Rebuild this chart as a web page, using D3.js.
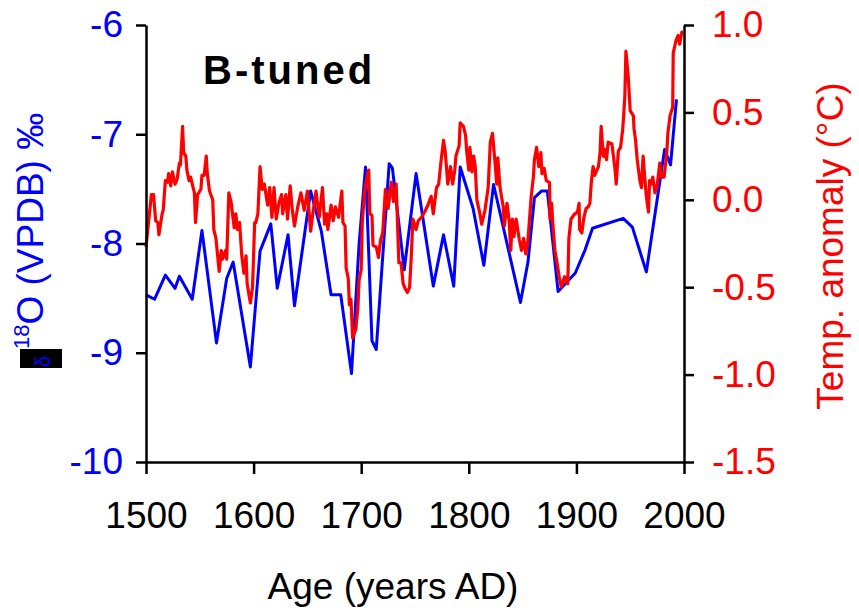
<!DOCTYPE html>
<html>
<head>
<meta charset="utf-8">
<script src="https://cdn.jsdelivr.net/npm/d3@7"></script>
<style>
  body { margin: 0; background: #fff; }
  text { font-family: "Liberation Sans", Arial, sans-serif; }
</style>
</head>
<body>
<script>
// d18O record (blue, left axis)
var d18oYears = [1500, 1508, 1518, 1527, 1531, 1543, 1552, 1565.5, 1575, 1581, 1597, 1606, 1616, 1622,
  1632, 1638, 1653, 1663, 1672, 1681, 1691, 1698, 1704, 1710, 1714, 1726, 1729, 1740, 1751, 1767,
  1776.5, 1786, 1792, 1804, 1814, 1823, 1848, 1855, 1861, 1867.5, 1873, 1883, 1899, 1908, 1915,
  1943.5, 1952, 1965, 1982, 1987.5, 1993];
var d18oValues = [-8.47, -8.51, -8.29, -8.41, -8.30, -8.51, -7.88, -8.91, -8.32, -8.17, -9.13, -8.07, -7.82, -8.41,
  -7.92, -8.57, -7.52, -7.89, -8.47, -8.47, -9.19, -8.01, -7.30, -8.89, -8.97, -7.27, -7.31, -8.24, -7.36, -8.39,
  -7.92, -8.39, -7.30, -7.68, -8.20, -7.46, -8.54, -8.17, -7.58, -7.52, -7.52, -8.44, -8.27, -8.06, -7.86,
  -7.77, -7.85, -8.26, -7.14, -7.28, -6.68];

// temperature anomaly (red, right axis)
var tempYears = [1500, 1505, 1507, 1509, 1511, 1512, 1515, 1516, 1518, 1520, 1521, 1523, 1524.5, 1527, 1529, 1531,
  1532, 1534, 1535, 1537, 1538, 1540, 1541.5, 1543, 1545, 1546, 1548, 1551, 1552, 1554, 1556, 1557, 1559,
  1562, 1563, 1565, 1568, 1570, 1571, 1574, 1575, 1577, 1579, 1582, 1583.5, 1585, 1587, 1589, 1591, 1593,
  1594, 1597, 1599, 1601, 1602, 1604, 1606, 1608, 1610, 1613, 1615, 1617, 1619, 1621, 1623.5, 1626, 1627,
  1630, 1631.5, 1634, 1636, 1638, 1641, 1644, 1647, 1650, 1653, 1655, 1658, 1661, 1664, 1666, 1668, 1669,
  1672, 1674, 1676, 1679, 1682, 1683, 1685, 1686, 1688, 1689, 1690.5, 1692, 1695, 1697, 1698, 1700, 1701,
  1703, 1706, 1707, 1708, 1710, 1711, 1714, 1716, 1718, 1720, 1722.5, 1725, 1726, 1728, 1730, 1732.5, 1735,
  1737, 1739, 1741, 1743, 1745, 1746.5, 1748, 1751, 1753, 1756, 1759, 1762, 1765, 1767, 1770, 1772, 1774,
  1776.5, 1778, 1780.5, 1783, 1785, 1787, 1788, 1791, 1792, 1795, 1797, 1798, 1800, 1801, 1803, 1804.5,
  1806, 1807.5, 1810, 1812, 1815, 1818, 1820, 1822, 1824, 1826, 1827, 1829, 1832, 1833, 1835.5, 1837.5,
  1839, 1840.5, 1842, 1844, 1846, 1847, 1849, 1851, 1853, 1855, 1858, 1860, 1861, 1863, 1865, 1867, 1868,
  1870, 1872, 1875, 1875.5, 1877, 1878, 1880, 1881.5, 1884, 1886, 1889, 1892, 1893, 1895, 1898.5, 1901,
  1902.5, 1903, 1905, 1907, 1909, 1911, 1912.5, 1914, 1915.5, 1917, 1919, 1920.5, 1922, 1923, 1925, 1926,
  1928, 1929.5, 1933, 1934, 1936, 1937, 1939, 1941, 1943, 1944, 1945, 1946, 1948, 1950, 1951, 1953, 1953.5,
  1955, 1956.5, 1959, 1960.5, 1962, 1963.5, 1965, 1967, 1968, 1969.5, 1971, 1973, 1975, 1977.5, 1979,
  1981.5, 1984, 1985, 1987, 1989.5, 1990, 1992.5, 1994.5, 1996, 1998, 1999];
var tempValues = [-0.27, 0.03, 0.03, -0.12, -0.13, -0.20, -0.08, -0.06, 0.11, 0.10, 0.15, 0.08, 0.16, 0.09, 0.12, 0.21,
  0.20, 0.42, 0.27, 0.25, 0.17, 0.11, 0.13, 0.09, 0.04, -0.13, 0.03, 0.06, 0.14, 0.14, 0.25, 0.15, 0.05,
  0.00, -0.17, -0.22, -0.41, -0.29, -0.34, -0.29, -0.34, 0.04, -0.01, -0.16, -0.08, -0.17, -0.13, -0.32, -0.42, -0.32,
  -0.48, -0.59, -0.50, -0.13, -0.13, -0.08, 0.19, 0.06, 0.09, -0.03, 0.07, -0.10, 0.07, -0.11, -0.02, 0.03, -0.08,
  0.03, -0.11, 0.08, -0.06, -0.15, -0.04, 0.04, -0.06, 0.05, -0.18, -0.08, 0.05, -0.10, 0.07, -0.14, -0.08, -0.17,
  -0.03, -0.12, -0.04, -0.10, 0.05, -0.13, -0.15, -0.39, -0.45, -0.60, -0.57, -0.79, -0.74, -0.61, -0.46, -0.40, -0.13,
  0.04, 0.15, 0.17, -0.08, -0.09, -0.26, -0.27, -0.33, -0.23, -0.19, 0.06, -0.05, 0.00, 0.10, -0.01, 0.09, -0.36,
  -0.36, -0.48, -0.51, -0.53, -0.50, -0.33, -0.11, -0.17, -0.12, -0.10, -0.07, -0.03, 0.02, -0.08, 0.07, 0.09, 0.21,
  0.34, 0.28, 0.09, 0.19, 0.09, 0.17, 0.25, 0.31, 0.44, 0.42, 0.37, 0.28, 0.17, 0.30, 0.16, 0.25,
  0.19, 0.00, -0.07, -0.14, -0.06, 0.07, 0.33, 0.38, 0.24, 0.09, 0.24, 0.07, -0.04, -0.15, -0.02, -0.12,
  -0.29, -0.11, -0.21, -0.11, -0.19, -0.23, -0.29, -0.22, -0.31, -0.23, 0.02, 0.13, 0.23, 0.30, 0.19, 0.27, 0.15,
  0.18, 0.11, 0.10, -0.11, -0.02, -0.13, -0.29, -0.34, -0.44, -0.50, -0.44, -0.48, -0.22, -0.11, -0.08, -0.07,
  -0.02, -0.17, -0.19, -0.10, -0.05, -0.04, -0.02, 0.11, 0.19, 0.14, 0.17, 0.19, 0.27, 0.42, 0.25, 0.29,
  0.23, 0.33, 0.32, 0.27, 0.17, 0.09, 0.28, 0.30, 0.40, 0.49, 0.59, 0.85, 0.72, 0.51, 0.50, 0.48, 0.41,
  0.34, 0.23, 0.11, 0.07, 0.25, 0.13, 0.02, -0.07, 0.11, 0.09, 0.13, 0.04, 0.08, 0.21, 0.13,
  0.13, 0.27, 0.38, 0.48, 0.53, 0.84, 0.91, 0.94, 0.89, 0.96, 0.96];

var xTicks = [1500, 1600, 1700, 1800, 1900, 2000];
var leftTicks = [-10, -9, -8, -7, -6];
var rightTicks = [-1.5, -1.0, -0.5, 0.0, 0.5, 1.0];

var width = 859, height = 610;

var svg = d3.select("body").append("svg")
    .attr("width", width)
    .attr("height", height);

var x = d3.scaleLinear().domain([1500, 2000]).range([146, 684]);
var yL = d3.scaleLinear().domain([-10, -6]).range([462, 25]);
var yR = d3.scaleLinear().domain([-1.5, 1.0]).range([462, 25]);

var d18o = d18oYears.map(function(d, i) { return [d, d18oValues[i]]; });
var temp = tempYears.map(function(d, i) { return [d, tempValues[i]]; });

// lines
svg.append("path")
    .attr("d", d3.line().x(function(d) { return x(d[0]); }).y(function(d) { return yL(d[1]); })(d18o))
    .attr("fill", "none")
    .attr("stroke", "#0000ff")
    .attr("stroke-width", 3)
    .attr("stroke-linejoin", "round");

svg.append("path")
    .attr("d", d3.line().x(function(d) { return x(d[0]); }).y(function(d) { return yR(d[1]); })(temp))
    .attr("fill", "none")
    .attr("stroke", "#ff0000")
    .attr("stroke-width", 3.2)
    .attr("stroke-linejoin", "round");

// axes
var fs = 37;

var gx = svg.append("g")
    .attr("transform", "translate(0,462)")
    .call(d3.axisBottom(x).tickValues(xTicks).tickFormat(d3.format("d")).tickSize(12).tickSizeOuter(0).tickPadding(28));

var gl = svg.append("g")
    .attr("transform", "translate(146,0)")
    .call(d3.axisLeft(yL).tickValues(leftTicks).tickFormat(d3.format("d")).tickSize(10).tickSizeOuter(0).tickPadding(13));

var gr = svg.append("g")
    .attr("transform", "translate(684,0)")
    .call(d3.axisRight(yR).tickValues(rightTicks).tickFormat(d3.format(".1f")).tickSize(10).tickSizeOuter(0).tickPadding(18));

[gx, gl, gr].forEach(function(g) {
  g.selectAll("path, line").attr("stroke", "#000").attr("stroke-width", 2.5);
  g.selectAll("text").attr("font-size", fs).attr("font-family", "Liberation Sans, Arial, sans-serif");
});
gx.selectAll("text").attr("fill", "#000");
gl.selectAll("text").attr("fill", "#0000ff").text(function(d) { return String(d); });
gr.selectAll("text").attr("fill", "#ff0000").text(function(d) { return d3.format(".1f")(d).replace("−", "-"); });

// titles
svg.append("text")
    .attr("x", 203).attr("y", 84)
    .attr("font-size", 40).attr("font-weight", "bold")
    .attr("letter-spacing", 3)
    .text("B-tuned");

svg.append("text")
    .attr("x", 393).attr("y", 599)
    .attr("text-anchor", "middle")
    .attr("font-size", fs)
    .text("Age (years AD)");

svg.append("text")
    .attr("transform", "translate(843,246) rotate(-90)")
    .attr("text-anchor", "middle")
    .attr("font-size", fs)
    .attr("fill", "#ff0000")
    .text("Temp. anomaly (°C)");

// left title, delta glyph shown in a black box as in the original
svg.append("rect")
    .attr("x", 20).attr("y", 349).attr("width", 42).attr("height", 19)
    .attr("fill", "#000");

svg.append("text")
    .attr("transform", "translate(50,367) rotate(-90)")
    .attr("font-size", 20)
    .attr("fill", "#0000ff")
    .text("δ");

var lt = svg.append("text")
    .attr("transform", "translate(43,349) rotate(-90)")
    .attr("font-size", fs)
    .attr("fill", "#0000ff");
lt.append("tspan").attr("font-size", 22).attr("dy", -14).text("18");
lt.append("tspan").attr("dy", 14).text("O (VPDB) ‰");
</script>
</body>
</html>
